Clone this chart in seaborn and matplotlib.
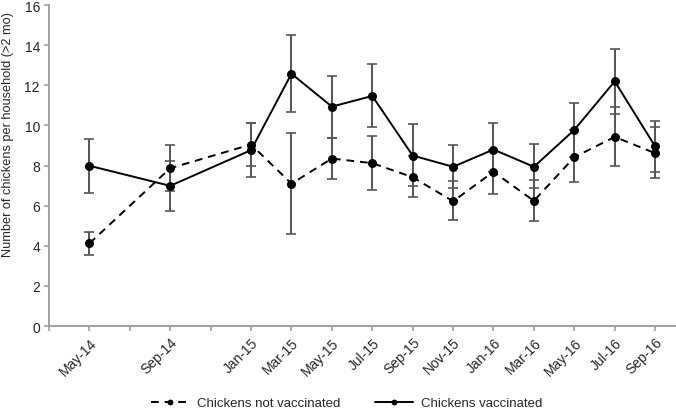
import numpy as np
import pandas as pd
import matplotlib
matplotlib.use("Agg")
import matplotlib.pyplot as plt
import seaborn as sns

# x positions are in 2-month steps (May-14 = 1, Sep-16 = 15)
month_pos = [1, 3, 5, 6, 7, 8, 9, 10, 11, 12, 13, 14, 15]
month_labels = ["May-14", "Sep-14", "Jan-15", "Mar-15", "May-15", "Jul-15", "Sep-15",
                "Nov-15", "Jan-16", "Mar-16", "May-16", "Jul-16", "Sep-16"]

# chickens vaccinated (solid)
vacc_mean = [7.99, 6.99, 8.77, 12.58, 10.94, 11.47, 8.50, 7.94, 8.80, 7.94, 9.78, 12.20, 8.96]
vacc_low = [6.61, 5.74, 7.44, 10.68, 9.38, 9.90, 6.98, 6.88, 7.69, 6.86, 8.42, 10.58, 7.69]
vacc_high = [9.35, 8.22, 10.12, 14.52, 12.47, 13.05, 10.05, 9.04, 10.10, 9.07, 11.13, 13.82, 10.23]

# chickens not vaccinated (dashed)
nvacc_mean = [4.12, 7.87, 9.05, 7.10, 8.35, 8.12, 7.42, 6.22, 7.69, 6.24, 8.42, 9.43, 8.62]
nvacc_low = [3.54, 6.74, 7.96, 4.58, 7.32, 6.80, 6.45, 5.28, 6.58, 5.25, 7.18, 7.97, 7.38]
nvacc_high = [4.70, 9.02, 10.10, 9.62, 9.38, 9.48, 8.50, 7.25, 8.80, 7.28, 9.78, 10.93, 9.90]

df = pd.DataFrame({
    "x": month_pos * 2,
    "count": nvacc_mean + vacc_mean,
    "low": nvacc_low + vacc_low,
    "high": nvacc_high + vacc_high,
    "group": ["Chickens not vaccinated"] * len(month_pos) + ["Chickens vaccinated"] * len(month_pos),
})

sns.set_style("white")
plt.rcParams["font.family"] = ["Liberation Sans", "DejaVu Sans"]

fig = plt.figure(figsize=(6.76, 4.10), dpi=100)
ax = fig.add_axes([0.0725, 0.2024, 0.9265, 0.7826])

# error bars first so markers sit on top
for name, sub in df.groupby("group"):
    yerr = np.vstack([sub["count"] - sub["low"], sub["high"] - sub["count"]])
    _, caps, bars = ax.errorbar(sub["x"], sub["count"], yerr=yerr, fmt="none",
                                ecolor="#555555", elinewidth=1.4, capsize=3.5,
                                capthick=1.2, zorder=2)
    for c in caps:
        c.set_color("black")

sns.lineplot(data=df, x="x", y="count", style="group",
             hue="group", palette=["black", "black"],
             dashes={"Chickens not vaccinated": (4, 3), "Chickens vaccinated": ""},
             markers={"Chickens not vaccinated": "o", "Chickens vaccinated": "o"},
             markersize=6.5, linewidth=1.4, markeredgewidth=0, ax=ax, zorder=3)

ax.set_xlim(0, 15.5)
ax.set_ylim(0, 16)
ax.set_yticks(range(0, 17, 2))
ax.set_xticks(range(0, 16))
tick_text = [""] * 16
for p, lab in zip(month_pos, month_labels):
    tick_text[p] = lab
ax.set_xticklabels(tick_text, rotation=45, ha="right", rotation_mode="anchor", fontsize=10)
ax.tick_params(axis="y", labelsize=10)
ax.tick_params(axis="both", direction="out", length=3.5, width=1.2, color="#a0a0a0",
               bottom=True, left=True, pad=3)
ax.set_xlabel("")
ax.set_ylabel("Number of chickens per household (>2 mo)", fontsize=9.2)
ax.yaxis.set_label_coords(-0.056, 0.6)

for s in ["top", "right"]:
    ax.spines[s].set_visible(False)
for s in ["left", "bottom"]:
    ax.spines[s].set_color("#a0a0a0")
    ax.spines[s].set_linewidth(1.4)

handles, labels = ax.get_legend_handles_labels()
ax.legend_.remove()
fig.legend(handles, labels, loc="lower center", bbox_to_anchor=(0.513, -0.03), ncol=2,
           frameon=False, fontsize=9.5, handlelength=2.9, columnspacing=2.6,
           handletextpad=0.6, markerscale=0.65)

fig.savefig("out.png", dpi=100)
